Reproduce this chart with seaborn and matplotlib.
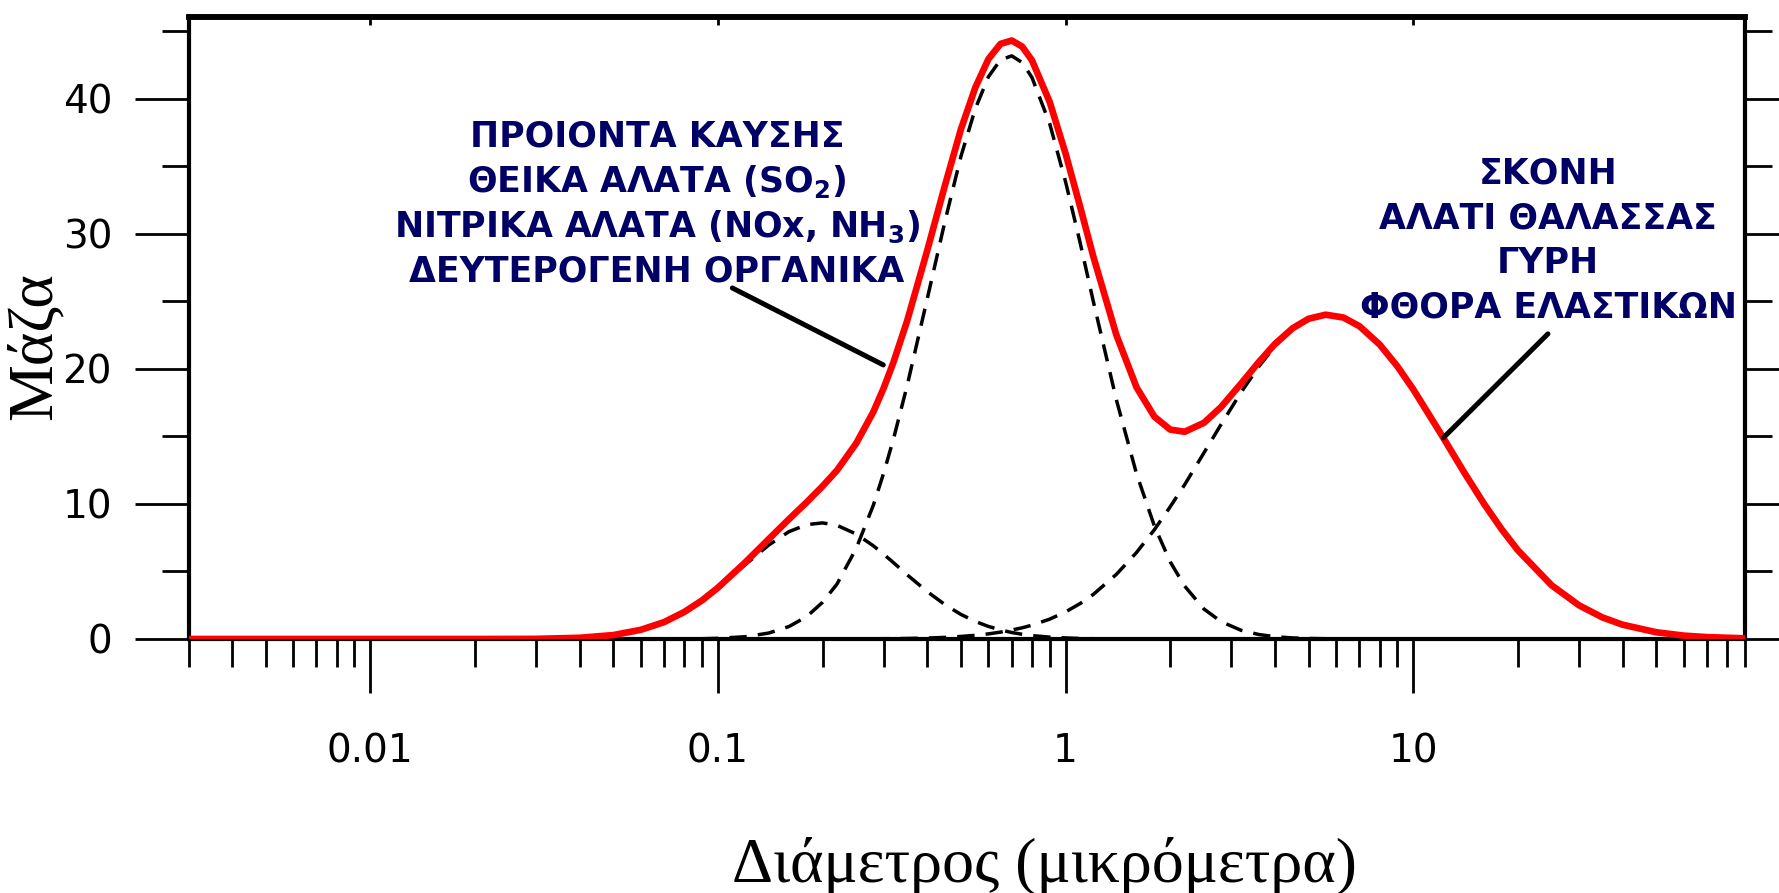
import matplotlib
matplotlib.use("Agg")
import matplotlib.pyplot as plt
import seaborn as sns
from matplotlib.ticker import FixedLocator, NullLocator, NullFormatter

# ---------------- data ----------------
diameter = [0.003, 0.01, 0.02, 0.03, 0.04, 0.05, 0.06, 0.07, 0.08, 0.09,
            0.1, 0.12, 0.14, 0.16, 0.18, 0.2, 0.22, 0.25, 0.28, 0.3,
            0.32, 0.35, 0.4, 0.45, 0.5, 0.55, 0.6, 0.65, 0.7, 0.75,
            0.8, 0.9, 1.0, 1.1, 1.2, 1.4, 1.6, 1.8, 2.0, 2.2,
            2.5, 2.8, 3.2, 3.6, 4.0, 4.5, 5.0, 5.6, 6.3, 7.0,
            8.0, 9.0, 10, 12, 14, 16, 18, 20, 25, 30,
            35, 40, 50, 60, 70, 90]

mode_fine = [0, 0, 0, 0.01, 0.09, 0.29, 0.68, 1.25, 1.99, 2.84,
             3.75, 5.52, 6.96, 7.95, 8.47, 8.60, 8.42, 7.77, 6.90, 6.27,
             5.65, 4.76, 3.51, 2.54, 1.82, 1.30, 0.93, 0.67, 0.48, 0.35,
             0.25, 0.14, 0.08, 0.04, 0.02, 0.01, 0, 0, 0, 0,
             0, 0, 0, 0, 0, 0, 0, 0, 0, 0,
             0, 0, 0, 0, 0, 0, 0, 0, 0, 0,
             0, 0, 0, 0, 0, 0]

mode_accum = [0, 0, 0, 0, 0, 0, 0, 0, 0.01, 0.02,
              0.05, 0.17, 0.44, 0.92, 1.66, 2.72, 4.07, 6.72, 9.92, 12.32,
              14.84, 18.75, 25.2, 30.96, 35.75, 39.28, 41.65, 42.90, 43.19, 42.70,
              41.60, 38.17, 33.86, 29.40, 25.07, 17.71, 12.23, 8.38, 5.71, 3.92,
              2.22, 1.29, 0.64, 0.33, 0.17, 0.08, 0.04, 0.02, 0.01, 0,
              0, 0, 0, 0, 0, 0, 0, 0, 0, 0,
              0, 0, 0, 0, 0, 0]

mode_coarse = [0, 0, 0, 0, 0, 0, 0, 0, 0, 0,
               0, 0, 0, 0, 0, 0, 0, 0.01, 0.01, 0.02,
               0.03, 0.04, 0.07, 0.12, 0.19, 0.27, 0.38, 0.51, 0.66, 0.83,
               1.02, 1.47, 2.01, 2.62, 3.29, 4.79, 6.41, 8.09, 9.80, 11.43,
               13.79, 15.89, 18.29, 20.20, 21.68, 22.94, 23.68, 24.0, 23.80, 23.17,
               21.82, 20.20, 18.49, 15.21, 12.35, 9.99, 8.09, 6.57, 3.98, 2.49,
               1.60, 1.06, 0.50, 0.25, 0.14, 0.05]

total_mass = [0, 0, 0, 0.01, 0.09, 0.29, 0.68, 1.25, 2.00, 2.86,
              3.80, 5.69, 7.40, 8.87, 10.13, 11.32, 12.49, 14.50, 16.83, 18.61,
              20.52, 23.55, 28.78, 33.62, 37.76, 40.85, 42.96, 44.08, 44.33, 43.88,
              42.87, 39.78, 35.95, 32.06, 28.38, 22.51, 18.64, 16.47, 15.51, 15.35,
              16.01, 17.18, 18.93, 20.53, 21.85, 23.02, 23.72, 24.02, 23.81, 23.17,
              21.82, 20.20, 18.49, 15.21, 12.35, 9.99, 8.09, 6.57, 3.98, 2.49,
              1.60, 1.06, 0.50, 0.25, 0.14, 0.05]

x_major = [0.01, 0.1, 1, 10]
x_major_labels = ["0.01", "0.1", "1", "10"]
y_major = [0, 10, 20, 30, 40]
y_minor = [5, 15, 25, 35, 45]

label_fine = ["ΠΡΟΙΟΝΤΑ ΚΑΥΣΗΣ",
              "ΘΕΙΚΑ ΑΛΑΤΑ (SO$_\\mathbf{2}$)",
              "ΝΙΤΡΙΚΑ ΑΛΑΤΑ (NOx, NH$_\\mathbf{3}$)",
              "ΔΕΥΤΕΡΟΓΕΝΗ ΟΡΓΑΝΙΚΑ"]
label_coarse = ["ΣΚΟΝΗ", "ΑΛΑΤΙ ΘΑΛΑΣΣΑΣ", "ΓΥΡΗ", "ΦΘΟΡΑ ΕΛΑΣΤΙΚΩΝ"]

# ---------------- figure ----------------
sns.set_style("ticks")
plt.rcParams["font.family"] = ["DejaVu Sans"]
plt.rcParams["mathtext.fontset"] = "dejavusans"
for key in ("text.color", "axes.edgecolor", "xtick.color", "ytick.color",
            "xtick.labelcolor", "ytick.labelcolor", "axes.labelcolor"):
    plt.rcParams[key] = "black"

W, H = 1779, 893
fig = plt.figure(figsize=(W / 100, H / 100), dpi=100)
ax = fig.add_axes([188.5 / W, 1 - 639 / H, (1745 - 188.5) / W, (639 - 17) / H])

dash = (0, (5.0, 3.2))
for series in (mode_fine, mode_accum, mode_coarse):
    sns.lineplot(x=diameter, y=series, ax=ax, color="black", linewidth=2.5,
                 linestyle=dash, sort=False, errorbar=None, zorder=3)
sns.lineplot(x=diameter, y=total_mass, ax=ax, color="#ff0000", linewidth=4.8,
             sort=False, errorbar=None, zorder=4, solid_capstyle="round",
             solid_joinstyle="round")

ax.set_xscale("log")
ax.set_xlim(0.003, 90)
ax.set_ylim(0, 46.07)

ax.xaxis.set_major_locator(FixedLocator(x_major))
ax.set_xticklabels(x_major_labels)
minor_x = [m * 10.0 ** e for e in range(-3, 2) for m in range(2, 10)]
ax.xaxis.set_minor_locator(FixedLocator(minor_x))
ax.xaxis.set_minor_formatter(NullFormatter())
ax.yaxis.set_major_locator(FixedLocator(y_major))
ax.yaxis.set_minor_locator(FixedLocator(y_minor))

ax.tick_params(axis="x", which="major", direction="out", length=39, width=2,
               labelsize=28, pad=28, top=False)
ax.tick_params(axis="x", which="minor", direction="out", length=20, width=2, top=False)
ax.tick_params(axis="y", which="major", direction="out", length=39, width=2,
               labelsize=28, pad=16, left=True, right=True)
ax.tick_params(axis="y", which="minor", direction="out", length=19.5, width=2,
               left=True, right=True)

for side, lw in (("left", 3), ("right", 3), ("bottom", 3), ("top", 4)):
    ax.spines[side].set_linewidth(lw)
    ax.spines[side].set_visible(True)
    ax.spines[side].set_color("black")
ax.set_xlabel("")
ax.set_ylabel("")

sec = ax.secondary_xaxis("top")
sec.xaxis.set_major_locator(FixedLocator(x_major))
sec.xaxis.set_minor_locator(NullLocator())
sec.tick_params(axis="x", direction="in", length=6, width=2, labeltop=False, color="black")
sec.spines["top"].set_linewidth(4)
sec.spines["top"].set_color("black")

# axis titles
fig.text(1044 / W, 1 - 866 / H, "Διάμετρος (μικρόμετρα)", ha="center", va="center",
         fontsize=46, family=["Liberation Serif", "DejaVu Serif"], color="black")
fig.text(36 / W, 1 - 346 / H, "Μάζα", ha="center", va="center", rotation=90,
         fontsize=46, family=["Liberation Serif", "DejaVu Serif"], color="black")

# annotations
navy = "#000066"
for i, line in enumerate(label_fine):
    fig.text(657 / W, 1 - (146.7 + 45 * i) / H, line, ha="center", va="baseline",
             fontsize=25, fontweight="bold", color=navy)
for i, line in enumerate(label_coarse):
    fig.text(1548 / W, 1 - (184 + 44.4 * i) / H, line, ha="center", va="baseline",
             fontsize=25, fontweight="bold", color=navy)

ax.annotate("", xy=(0.299, 20.3), xytext=(0.110, 26.0),
            arrowprops=dict(arrowstyle="-", color="black", lw=3.6,
                            shrinkA=0, shrinkB=0), zorder=5)
ax.annotate("", xy=(12.2, 14.9), xytext=(24.4, 22.6),
            arrowprops=dict(arrowstyle="-", color="black", lw=3.6,
                            shrinkA=0, shrinkB=0), zorder=5)

fig.savefig("out.png", dpi=100)
